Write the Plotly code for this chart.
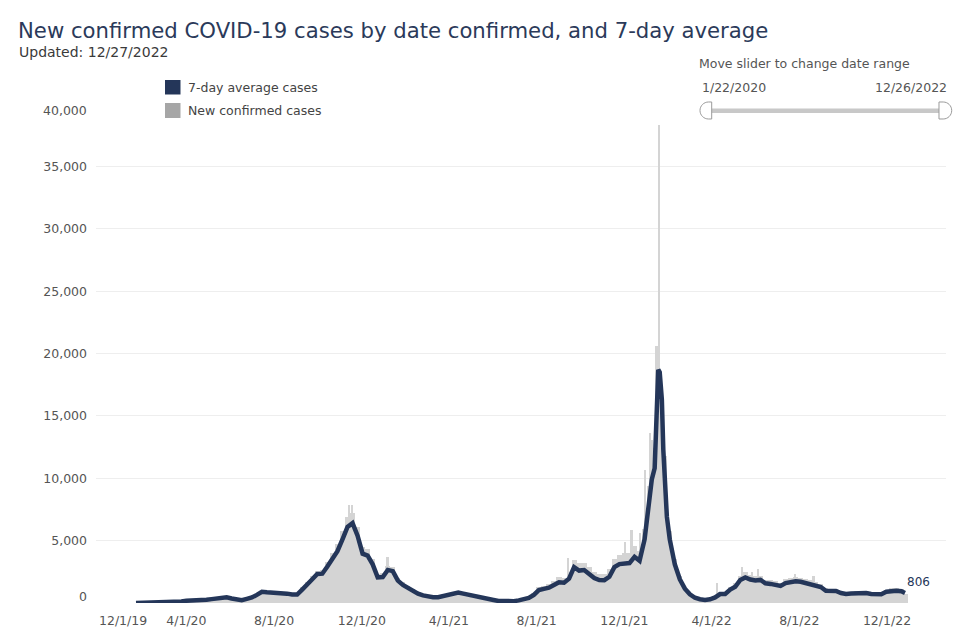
import pandas as pd
import plotly.graph_objects as go

# ---------------- data ----------------
week_start = "2020-01-22"
avg_weekly = [
    0, 10, 15, 20, 25, 30, 40, 50, 80, 130,
    185, 190, 190, 210, 260, 310, 360, 410, 460, 360,
    250, 220, 330, 440, 650, 900, 860, 850, 835, 830,
    750, 680, 680, 1080, 1450, 1900, 2330, 2350, 2920, 3550,
    4150, 5100, 6100, 6400, 5400, 3950, 3800, 3100, 2050, 2080,
    2650, 2550, 1790, 1450, 1210, 970, 750, 610, 500, 470,
    460, 540, 680, 780, 840, 750, 680, 610, 530, 450,
    350, 240, 160, 150, 150, 150, 210, 270, 400, 650,
    1040, 1130, 1230, 1440, 1660, 1620, 1950, 2870, 2600, 2640,
    2300, 2000, 1840, 1830, 2100, 2870, 3120, 3200, 3200, 3700,
    3380, 5100, 8200, 10800, 18500, 10400, 5100, 3100, 1900, 1150,
    700, 420, 300, 250, 300, 450, 720, 720, 1080, 1300,
    1850, 2050, 1880, 1800, 1850, 1580, 1530, 1460, 1370, 1600,
    1660, 1740, 1700, 1610, 1540, 1430, 1280, 980, 940, 960,
    800, 730, 760, 790, 820, 800, 730, 700, 700, 900,
    990, 990, 940,
]
bar_weekly = [
    0, 10, 20, 20, 30, 30, 45, 60, 100, 160,
    210, 210, 210, 240, 290, 340, 400, 450, 500, 400,
    290, 260, 380, 500, 740, 1000, 960, 950, 930, 920,
    840, 770, 780, 1250, 1650, 2150, 2600, 2650, 3300, 4000,
    4700, 5800, 6900, 7200, 6100, 4500, 4300, 3500, 2300, 2400,
    3000, 2900, 2000, 1650, 1380, 1100, 860, 700, 570, 540,
    530, 620, 780, 890, 960, 860, 780, 700, 610, 520,
    400, 280, 190, 180, 180, 180, 250, 320, 470, 800,
    1300, 1400, 1500, 1800, 2050, 2000, 2450, 3450, 3200, 3200,
    2850, 2500, 2300, 2300, 2700, 3500, 3850, 4000, 4000, 4600,
    4200, 5900, 9400, 12400, 18000, 11800, 5800, 3500, 2150, 1300,
    800, 480, 340, 290, 340, 540, 870, 870, 1300, 1580,
    2200, 2450, 2250, 2150, 2200, 1880, 1830, 1760, 1640, 1910,
    1990, 2090, 2040, 1940, 1840, 1720, 1540, 1170, 1130, 1150,
    960, 880, 910, 940, 980, 960, 880, 840, 840, 1080,
    1180, 1180, 1130,
]
last_date = "2022-12-26"
last_avg = 806
last_bar = 760

# extra detail around the Omicron peak (7-day average)
peak_dates = ["2022-01-08", "2022-01-15", "2022-01-17", "2022-01-22", "2022-01-24", "2022-01-29"]
peak_avg = [9900, 16300, 18700, 16300, 12300, 6900]

# individual daily spikes of new confirmed cases
spike_dates = ["2020-11-13", "2020-11-18", "2021-01-06", "2021-09-14", "2021-09-21",
               "2021-12-02", "2021-12-11", "2021-12-23", "2021-12-30", "2022-01-06",
               "2022-01-09", "2022-01-15", "2022-01-18", "2022-04-09", "2022-05-14",
               "2022-05-28", "2022-06-05", "2022-07-26", "2022-08-21"]
spike_vals = [7870, 7870, 3690, 3600, 3450,
              4920, 5860, 5620, 10670, 13640,
              13100, 20570, 38280, 1580, 2860,
              2510, 2730, 2300, 2170]

x_tick_vals = ["2019-12-01", "2020-04-01", "2020-08-01", "2020-12-01", "2021-04-01",
               "2021-08-01", "2021-12-01", "2022-04-01", "2022-08-01", "2022-12-01"]
x_tick_text = ["12/1/19", "4/1/20", "8/1/20", "12/1/20", "4/1/21",
               "8/1/21", "12/1/21", "4/1/22", "8/1/22", "12/1/22"]
y_tick_vals = [0, 5000, 10000, 15000, 20000, 25000, 30000, 35000, 40000]
y_tick_text = ["0", "5,000", "10,000", "15,000", "20,000", "25,000", "30,000", "35,000", "40,000"]

title_text = "New confirmed COVID-19 cases by date confirmed, and 7-day average"
subtitle_text = "Updated: 12/27/2022"
legend_labels = ["7-day average cases", "New confirmed cases"]
slider_caption = "Move slider to change date range"
slider_start = "1/22/2020"
slider_end = "12/26/2022"

# ---------------- build series ----------------
week_dates = pd.date_range(week_start, periods=len(avg_weekly), freq="7D")
line = pd.Series(avg_weekly, index=week_dates)
line = pd.concat([line, pd.Series(peak_avg, index=pd.to_datetime(peak_dates)),
                  pd.Series([last_avg], index=pd.to_datetime([last_date]))]).sort_index()
bars = pd.concat([pd.Series(bar_weekly, index=week_dates),
                  pd.Series([last_bar], index=pd.to_datetime([last_date]))])

NAVY = "#243659"
BARGRAY = "#d4d4d4"
LEGGRAY = "#a6a6a6"
TXT = "#555555"
FONT = "DejaVu Sans"
DAY = 86400000

W, H = 980, 644
L, R, T, B = 96, 34, 104, 41
PW, PH = W - L - R, H - T - B


def px(x):
    return (x - L) / PW


def py(y):
    return (T + PH - y) / PH


fig = go.Figure()
fig.add_trace(go.Bar(x=bars.index, y=bars.values, width=7 * DAY, marker_color=BARGRAY,
                     marker_line_width=0, showlegend=False, name=legend_labels[1]))
fig.add_trace(go.Bar(x=pd.to_datetime(spike_dates), y=spike_vals, width=2.4 * DAY,
                     marker_color=BARGRAY, marker_line_width=0, showlegend=False,
                     name=legend_labels[1]))
fig.add_trace(go.Scatter(x=line.index, y=line.values, mode="lines",
                         line=dict(color=NAVY, width=4.5, shape="linear"),
                         showlegend=False, name=legend_labels[0]))

ann = []
ann.append(dict(text=title_text, x=px(16), y=py(30.5), xref="paper", yref="paper",
                xanchor="left", yanchor="middle", showarrow=False,
                font=dict(family=FONT, size=21.2, color="#2b3a5a")))
ann.append(dict(text=subtitle_text, x=px(17), y=py(51.5), xref="paper", yref="paper",
                xanchor="left", yanchor="middle", showarrow=False,
                font=dict(family=FONT, size=14, color="#3a3a3a")))
for lbl, yc in zip(legend_labels, [87.5, 110.5]):
    ann.append(dict(text=lbl, x=px(186), y=py(yc), xref="paper", yref="paper",
                    xanchor="left", yanchor="middle", showarrow=False,
                    font=dict(family=FONT, size=12.5, color="#444444")))
ann.append(dict(text=slider_caption, x=px(804), y=py(64), xref="paper", yref="paper",
                xanchor="center", yanchor="middle", showarrow=False,
                font=dict(family=FONT, size=12.5, color=TXT)))
ann.append(dict(text=slider_start, x=px(700), y=py(88), xref="paper", yref="paper",
                xanchor="left", yanchor="middle", showarrow=False,
                font=dict(family=FONT, size=12.5, color=TXT)))
ann.append(dict(text=slider_end, x=px(948.5), y=py(88), xref="paper", yref="paper",
                xanchor="right", yanchor="middle", showarrow=False,
                font=dict(family=FONT, size=12.5, color=TXT)))
# end label
ann.append(dict(text=str(last_avg), x=last_date, y=last_avg, xref="x", yref="y",
                xanchor="left", yanchor="middle", yshift=11, xshift=0, showarrow=False,
                font=dict(family=FONT, size=12, color=NAVY)))
# first x label kept inside plot area, first/last y labels shifted inward
ann.append(dict(text=x_tick_text[0], x=px(96.5), y=py(620.5), xref="paper", yref="paper",
                xanchor="left", yanchor="middle", showarrow=False,
                font=dict(family=FONT, size=12.5, color=TXT)))
ann.append(dict(text=y_tick_text[0], x=px(88.5), y=py(596.5), xref="paper", yref="paper",
                xanchor="right", yanchor="middle", showarrow=False,
                font=dict(family=FONT, size=12.5, color=TXT)))
ann.append(dict(text=y_tick_text[-1], x=px(88.5), y=py(110.5), xref="paper", yref="paper",
                xanchor="right", yanchor="middle", showarrow=False,
                font=dict(family=FONT, size=12.5, color=TXT)))

xt = list(x_tick_text)
xt[0] = ""
yt = list(y_tick_text)
yt[0] = ""
yt[-1] = ""

shapes = []
# legend squares
shapes.append(dict(type="rect", xref="paper", yref="paper", x0=px(165), x1=px(180.5),
                   y0=py(80), y1=py(94.5), fillcolor=NAVY, line_width=0))
shapes.append(dict(type="rect", xref="paper", yref="paper", x0=px(165), x1=px(180.5),
                   y0=py(103), y1=py(118), fillcolor=LEGGRAY, line_width=0))
# slider track
shapes.append(dict(type="rect", xref="paper", yref="paper", x0=px(710), x1=px(940),
                   y0=py(108.5), y1=py(113), fillcolor="#c8c8c8", line_width=0))


def pt(x, y):
    return f"{px(x):.5f},{py(y):.5f}"


k = 0.5523 * 8.5
cy, r = 110.5, 8.5
# left handle (rounded on the left)
cx = 708.5
p = (f"M{pt(711.7, cy - r)} L{pt(cx, cy - r)} "
     f"C{pt(cx - k, cy - r)} {pt(cx - r, cy - k)} {pt(cx - r, cy)} "
     f"C{pt(cx - r, cy + k)} {pt(cx - k, cy + r)} {pt(cx, cy + r)} "
     f"L{pt(711.7, cy + r)} Z")
shapes.append(dict(type="path", xref="paper", yref="paper", path=p, fillcolor="white",
                   line=dict(color="#9a9a9a", width=1)))
# right handle (rounded on the right)
cx = 943.2
p = (f"M{pt(939, cy - r)} L{pt(cx, cy - r)} "
     f"C{pt(cx + k, cy - r)} {pt(cx + r, cy - k)} {pt(cx + r, cy)} "
     f"C{pt(cx + r, cy + k)} {pt(cx + k, cy + r)} {pt(cx, cy + r)} "
     f"L{pt(939, cy + r)} Z")
shapes.append(dict(type="path", xref="paper", yref="paper", path=p, fillcolor="white",
                   line=dict(color="#9a9a9a", width=1)))

fig.update_layout(
    width=W, height=H,
    margin=dict(l=L, r=R, t=T, b=B, pad=0),
    paper_bgcolor="white", plot_bgcolor="white",
    barmode="overlay", bargap=0,
    showlegend=False,
    font=dict(family=FONT, size=12.5, color=TXT),
    annotations=ann, shapes=shapes,
    xaxis=dict(type="date", range=["2019-11-27 09:00", "2023-02-21"],
               tickmode="array", tickvals=x_tick_vals, ticktext=xt,
               showgrid=False, zeroline=False, showline=False, ticks="",
               tickfont=dict(family=FONT, size=12.5, color=TXT), ticklabelstandoff=8),
    yaxis=dict(range=[0, 40000], tickmode="array", tickvals=y_tick_vals, ticktext=yt,
               showgrid=True, gridcolor="#eeeeee", gridwidth=1, zeroline=False,
               showline=False, ticks="", ticklabelstandoff=8,
               tickfont=dict(family=FONT, size=12.5, color=TXT)),
)

fig.write_html("out.html", config={"displayModeBar": False})
